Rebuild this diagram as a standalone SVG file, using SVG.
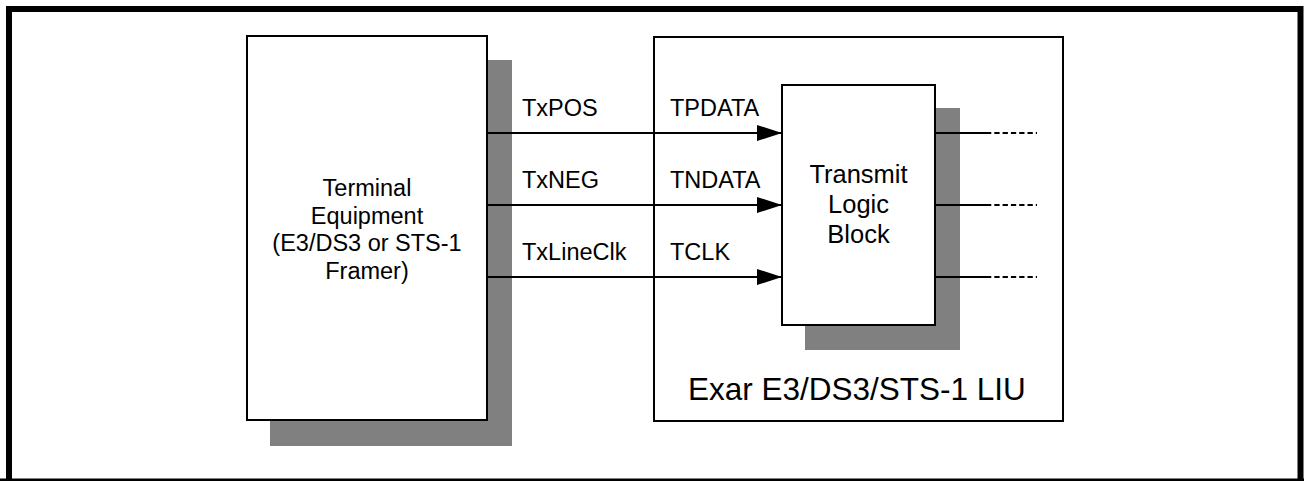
<svg xmlns="http://www.w3.org/2000/svg" width="1304" height="481" viewBox="0 0 1304 481">
<style>
.box{fill:#fff;stroke:#000;stroke-width:2}
.shadow{fill:#808080;stroke:none}
.wire{stroke:#000;stroke-width:2;fill:none}
.dash{stroke:#000;stroke-width:2;fill:none;stroke-dasharray:5.3 3}
text{font-family:"Liberation Sans",Arial,sans-serif;fill:#000}
.lbl{font-size:23.5px}
.mid{text-anchor:middle}
</style>
<defs>
<marker id="arr" markerUnits="userSpaceOnUse" markerWidth="26" markerHeight="18" refX="25" refY="8" orient="auto">
<path d="M0,0 L25,8 L0,16 Z" fill="#000"/>
</marker>
</defs>
<rect width="1304" height="481" fill="#fff"/>
<g id="frame">
<path d="M9,481 V9 H1300.5 V481" fill="none" stroke="#000" stroke-width="6"/>
<rect x="0" y="478.5" width="1304" height="2.5" fill="#000"/>
</g>
<g id="terminal">
<rect class="shadow" x="270" y="60" width="242" height="386"/>
<rect class="box" x="247" y="36" width="240" height="384"/>
<text class="lbl mid" x="367" y="196">Terminal</text>
<text class="lbl mid" x="367" y="223.5">Equipment</text>
<text class="lbl mid" x="367" y="251">(E3/DS3 or STS-1</text>
<text class="lbl mid" x="367" y="278.5">Framer)</text>
</g>
<g id="liu">
<rect class="box" x="654" y="37" width="409" height="384"/>
<text x="688" y="400" font-size="31.5">Exar E3/DS3/STS-1 LIU</text>
</g>
<g id="transmit">
<rect class="shadow" x="805" y="108" width="155" height="242"/>
<rect class="box" x="782" y="85" width="153" height="240"/>
<text class="mid" x="858.5" y="183" font-size="25.5">Transmit</text>
<text class="mid" x="858.5" y="213" font-size="25.5">Logic</text>
<text class="mid" x="858.5" y="243" font-size="25.5">Block</text>
</g>
<g id="connectors">
<line class="wire" x1="487" y1="133" x2="782" y2="133" marker-end="url(#arr)"/>
<line class="wire" x1="487" y1="205" x2="782" y2="205" marker-end="url(#arr)"/>
<line class="wire" x1="487" y1="277" x2="782" y2="277" marker-end="url(#arr)"/>
<line class="wire" x1="935" y1="133" x2="986" y2="133"/>
<line class="wire" x1="935" y1="205" x2="986" y2="205"/>
<line class="wire" x1="935" y1="277" x2="986" y2="277"/>
<line class="dash" x1="986" y1="133" x2="1037" y2="133"/>
<line class="dash" x1="986" y1="205" x2="1037" y2="205"/>
<line class="dash" x1="986" y1="277" x2="1037" y2="277"/>
</g>
<g id="labels">
<text class="lbl" x="522" y="116">TxPOS</text>
<text class="lbl" x="522" y="188">TxNEG</text>
<text class="lbl" x="522" y="260">TxLineClk</text>
<text class="lbl" x="670" y="116">TPDATA</text>
<text class="lbl" x="670" y="188">TNDATA</text>
<text class="lbl" x="670" y="260">TCLK</text>
</g>
</svg>
